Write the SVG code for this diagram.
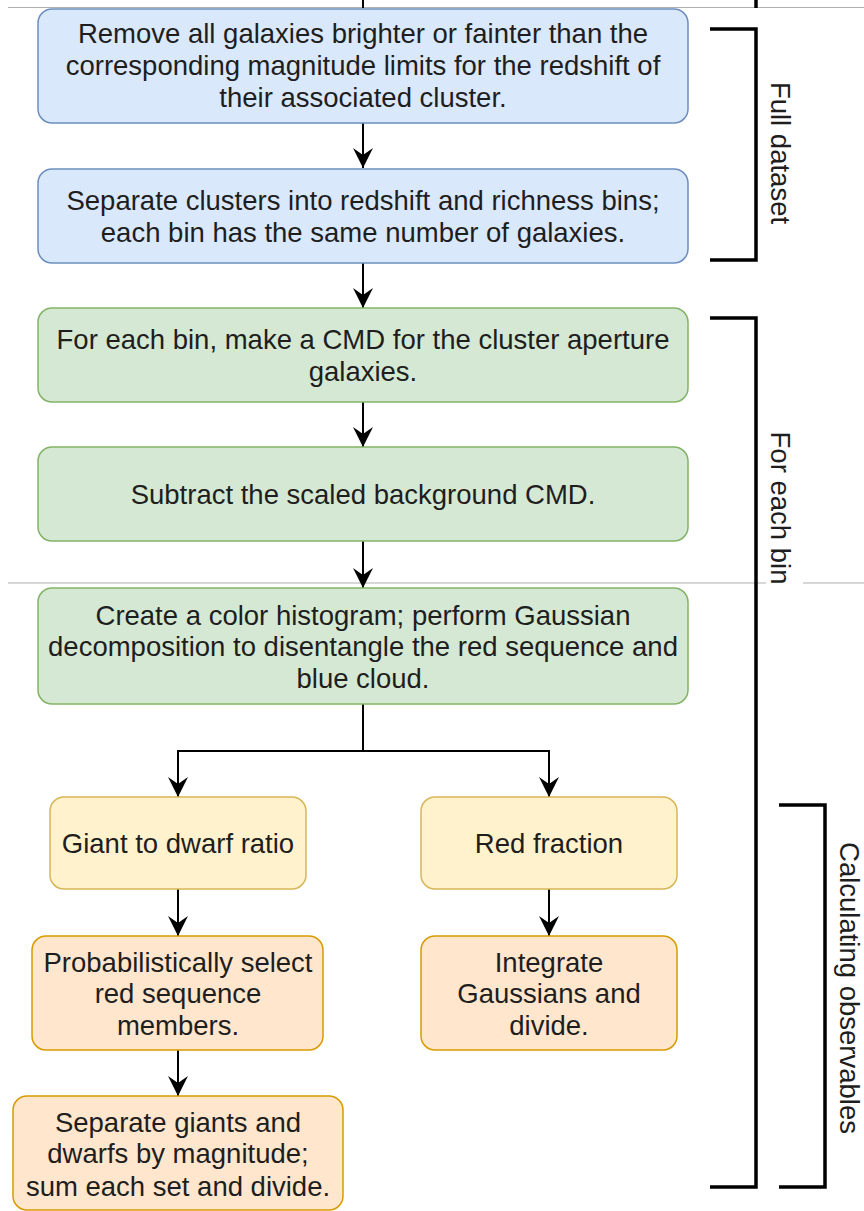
<svg xmlns="http://www.w3.org/2000/svg" width="864" height="1211" viewBox="0 0 864 1211">
<style>
.t{font-family:"Liberation Sans",Arial,Helvetica,sans-serif;font-size:27.5px;fill:#1e1e1e;text-anchor:middle}
.blue{fill:#dae8fc;stroke:#6c8ebf;stroke-width:1.5}
.green{fill:#d5e8d4;stroke:#82b366;stroke-width:1.5}
.yellow{fill:#fff2cc;stroke:#d6b656;stroke-width:1.5}
.orange{fill:#ffe6cc;stroke:#d79b00;stroke-width:1.5}
.c{fill:none;stroke:#000;stroke-width:2}
.br{fill:none;stroke:#000;stroke-width:3.5}
.pg{stroke:#b0b0b0;stroke-width:1.2}
</style>
<defs>
<marker id="arr" viewBox="0 0 20 20" refX="20" refY="10" markerWidth="20" markerHeight="20" markerUnits="userSpaceOnUse" orient="auto">
<path d="M0,0 L20,10 L0,20 L7,10 Z" fill="#000"/>
</marker>
</defs>
<rect width="864" height="1211" fill="#fff"/>
<g id="page-lines">
<line class="pg" x1="8" y1="7.5" x2="864" y2="7.5"/>
<line class="pg" x1="8" y1="583" x2="766" y2="583"/>
<line class="pg" x1="803" y1="583" x2="864" y2="583"/>
<line x1="363" y1="0" x2="363" y2="8" stroke="#000" stroke-width="2"/>
<line x1="756" y1="0" x2="756" y2="8" stroke="#000" stroke-width="3.5"/>
</g>
<g id="connectors">
<path class="c" d="M363,123 V168" marker-end="url(#arr)"/>
<path class="c" d="M363,263 V308" marker-end="url(#arr)"/>
<path class="c" d="M363,402 V447" marker-end="url(#arr)"/>
<path class="c" d="M363,541 V588" marker-end="url(#arr)"/>
<path class="c" d="M363,704 V751 H178 V797" marker-end="url(#arr)"/>
<path class="c" d="M363,751 H549 V797" marker-end="url(#arr)"/>
<path class="c" d="M178,889 V936" marker-end="url(#arr)"/>
<path class="c" d="M549,889 V936" marker-end="url(#arr)"/>
<path class="c" d="M178,1050 V1096" marker-end="url(#arr)"/>
</g>
<g id="n1">
<rect class="blue" x="38" y="9" width="650" height="114" rx="14"/>
<text class="t" x="363" y="43">Remove all galaxies brighter or fainter than the</text>
<text class="t" x="363" y="75">corresponding magnitude limits for the redshift of</text>
<text class="t" x="363" y="107">their associated cluster.</text>
</g>
<g id="n2">
<rect class="blue" x="38" y="169" width="650" height="94" rx="14"/>
<text class="t" x="363" y="210">Separate clusters into redshift and richness bins;</text>
<text class="t" x="363" y="242">each bin has the same number of galaxies.</text>
</g>
<g id="n3">
<rect class="green" x="38" y="308" width="650" height="94" rx="14"/>
<text class="t" x="363" y="349">For each bin, make a CMD for the cluster aperture</text>
<text class="t" x="363" y="381">galaxies.</text>
</g>
<g id="n4">
<rect class="green" x="38" y="447" width="650" height="94" rx="14"/>
<text class="t" x="363" y="504">Subtract the scaled background CMD.</text>
</g>
<g id="n5">
<rect class="green" x="38" y="588" width="650" height="116" rx="14"/>
<text class="t" x="363" y="625">Create a color histogram; perform Gaussian</text>
<text class="t" x="363" y="656">decomposition to disentangle the red sequence and</text>
<text class="t" x="363" y="688">blue cloud.</text>
</g>
<g id="n6">
<rect class="yellow" x="50" y="797" width="256" height="92" rx="14"/>
<text class="t" x="178" y="853">Giant to dwarf ratio</text>
</g>
<g id="n7">
<rect class="yellow" x="421" y="797" width="256" height="92" rx="14"/>
<text class="t" x="549" y="853">Red fraction</text>
</g>
<g id="n8">
<rect class="orange" x="32" y="936" width="291" height="114" rx="14"/>
<text class="t" x="178" y="972">Probabilistically select</text>
<text class="t" x="178" y="1003">red sequence</text>
<text class="t" x="178" y="1035">members.</text>
</g>
<g id="n9">
<rect class="orange" x="421" y="936" width="256" height="114" rx="14"/>
<text class="t" x="549" y="972">Integrate</text>
<text class="t" x="549" y="1003">Gaussians and</text>
<text class="t" x="549" y="1035">divide.</text>
</g>
<g id="n10">
<rect class="orange" x="13" y="1096" width="330" height="114" rx="14"/>
<text class="t" x="178" y="1132">Separate giants and</text>
<text class="t" x="178" y="1163">dwarfs by magnitude;</text>
<text class="t" x="178" y="1196">sum each set and divide.</text>
</g>
<g id="bracket-full">
<path class="br" d="M710,29 H756 V260 H710"/>
<text class="t" transform="translate(771,153) rotate(90)">Full dataset</text>
</g>
<g id="bracket-bin">
<path class="br" d="M710,318 H756 V1187 H710"/>
<text class="t" transform="translate(771,508) rotate(90)">For each bin</text>
</g>
<g id="bracket-obs">
<path class="br" d="M779,805 H825 V1187 H779"/>
<text class="t" transform="translate(840,988) rotate(90)">Calculating observables</text>
</g>
</svg>
